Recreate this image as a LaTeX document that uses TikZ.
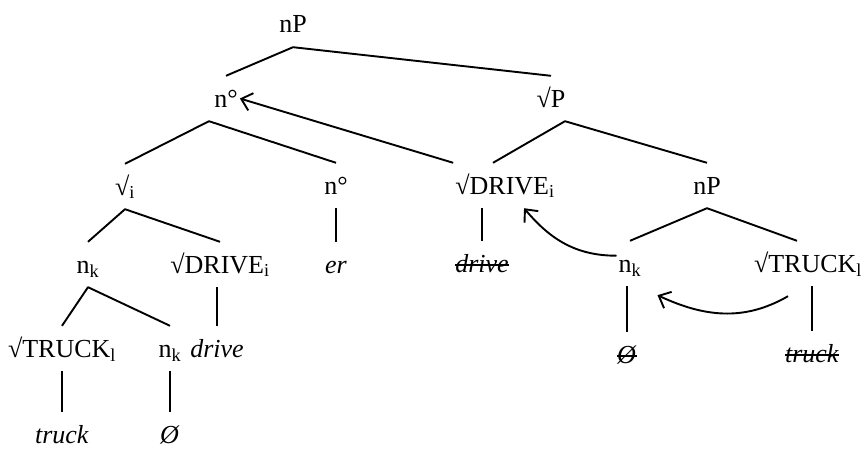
\documentclass[tikz,border=0pt]{standalone}
\usepackage{fontspec}
\setmainfont{Liberation Serif}
\usetikzlibrary{arrows.meta}
\newcommand{\rt}{√}
\newcommand{\lo}[1]{\textsubscript{#1}}
\newcommand{\gone}[1]{\setbox0\hbox{\textit{#1}}\rlap{\rule[0.24em]{\wd0}{1.6pt}}\box0}

\begin{document}
\begin{tikzpicture}[x=1pt,y=-1pt]
  \tikzset{every node/.style={font=\fontsize{26}{30}\selectfont, anchor=base, text height=24pt, text depth=7pt, inner xsep=2pt, inner ysep=7pt},
           branch/.style={line width=1.9pt, line join=round},
           move/.style={line width=1.9pt, -{Straight Barb[length=10pt,width=18pt]}}}
  \useasboundingbox (0,0) rectangle (865,452);
  \node (nPa) at (293,33) {nP};
  \node (nOa) at (226,107) {n°};
  \node (rootP) at (551,107) {\rt P};
  \node (rooti) at (125,195) {\rt\lo{i}};
  \node (nOb) at (336,194) {n°};
  \node (DRIVEa) at (505,194) {\rt DRIVE\lo{i}};
  \node (nPb) at (707,194) {nP};
  \node (nKa) at (88,273) {n\lo{k}};
  \node (DRIVEb) at (220,273) {\rt DRIVE\lo{i}};
  \node (er) at (336,273) {\textit{er}};
  \node (drivea) at (482,272) {\gone{drive}};
  \node (nKb) at (630,272) {n\lo{k}};
  \node (TRUCKa) at (808,272) {\rt TRUCK\lo{l}};
  \node (TRUCKb) at (62,357) {\rt TRUCK\lo{l}};
  \node (nKd) at (170,357) {n\lo{k}};
  \node (driveb) at (217,357) {\textit{drive}};
  \node (nullb) at (627,363) {\gone{Ø}};
  \node (truckb) at (812,362) {\gone{truck}};
  \node (truckc) at (62,443) {\textit{truck}};
  \node (nulla) at (170,443) {\textit{Ø}};
  \draw[branch] (nOa.north) -- (nPa.south) -- (rootP.north);
  \draw[branch] (rooti.north) -- ([xshift=-17pt]nOa.south) -- (nOb.north);
  \draw[branch] ([xshift=-12pt]DRIVEa.north) -- ([xshift=14pt]rootP.south) -- (nPb.north);
  \draw[branch] (nKa.north) -- (rooti.south) -- (DRIVEb.north);
  \draw[branch] (nKb.north) -- (nPb.south) -- ([xshift=-11pt]TRUCKa.north);
  \draw[branch] (TRUCKb.north) -- (nKa.south) -- (nKd.north);
  \foreach \a/\b in {nOb/er, DRIVEa/drivea, DRIVEb/driveb, nKb/nullb, TRUCKa/truckb, TRUCKb/truckc, nKd/nulla}
    \draw[branch] (\a.south -| \b) -- (\b.north);
  \draw[move] (DRIVEa.north west) -- (nOa.east);
  \draw[move] (nKb.150) to[out=180,in=-50] (DRIVEa.-50);
  \draw[move] ([xshift=-20pt,yshift=-10pt]TRUCKa.south) to[out=210,in=-25] ([xshift=14pt,yshift=-9pt]nKb.south east);
\end{tikzpicture}
\end{document}
